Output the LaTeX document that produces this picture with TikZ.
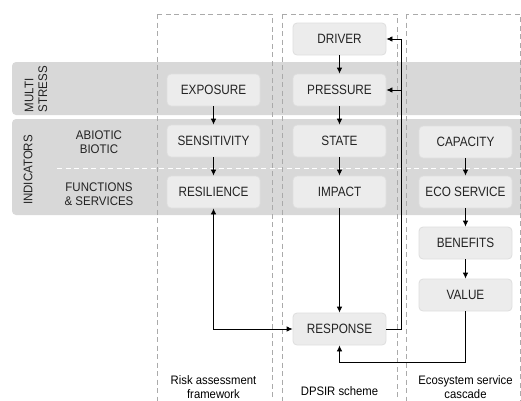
\documentclass[tikz,border=0pt]{standalone}
\usepackage{fontspec}
\setmainfont{Liberation Sans}
\newfontfamily\boxfont{Liberation Sans}[FakeStretch=0.87]
\newfontfamily\lblfont{Liberation Sans}[FakeStretch=0.92]
\usetikzlibrary{arrows.meta}
\definecolor{bandgray}{RGB}{216,216,216}
\definecolor{boxfill}{RGB}{236,236,236}
\definecolor{boxline}{RGB}{222,222,222}
\definecolor{dashgray}{RGB}{170,170,170}
\definecolor{txt}{RGB}{35,35,35}
\tikzset{
  box/.style={draw=boxline, line width=0.8pt, fill=boxfill, rounded corners=4pt,
    minimum width=93pt, minimum height=32pt, inner sep=0pt, text=txt,
    font=\boxfont\fontsize{13.5}{15}\selectfont},
  arr/.style={-{Latex[length=6pt,width=5.5pt]}, line width=0.8pt},
  arrboth/.style={{Latex[length=6pt,width=5.5pt]}-{Latex[length=6pt,width=5.5pt]}, line width=0.8pt},
  colbox/.style={draw=dashgray, dash pattern=on 5pt off 3.5pt, line width=0.8pt},
  band/.style={fill=bandgray, rounded corners=4pt},
  sidelbl/.style={text=txt, font=\lblfont\fontsize{12.5}{13.8}\selectfont, align=center},
  botlbl/.style={text=black, font=\lblfont\fontsize{12.3}{14.5}\selectfont, align=center},
}
\begin{document}
\begin{tikzpicture}[x=1pt,y=-1pt]
\useasboundingbox (0,0) rectangle (521,400);
\clip (0,0) rectangle (521,400);
% bands
\fill[band] (12,62) rectangle (530,115);
\fill[band] (12,119) rectangle (530,215);
\draw[white, line width=0.9pt, dash pattern=on 5pt off 3.5pt] (57,168) -- (521,168);
% columns
\draw[colbox] (157,14) rectangle (272,420);
\draw[colbox] (282,14) rectangle (397,420);
\draw[colbox] (406,14) rectangle (520,420);
% side labels
\node[sidelbl, rotate=90, align=left] (multi) at (36,89) {MULTI\\STRESS};
\node[sidelbl, rotate=90] (ind) at (28,170) {INDICATORS};
\node[sidelbl] (abio) at (99,142) {ABIOTIC\\BIOTIC};
\node[sidelbl] (func) at (99,194) {FUNCTIONS\\\&~SERVICES};
% nodes
\node[box] (drv) at (339.5,39) {DRIVER};
\node[box] (pre) at (339.5,90) {PRESSURE};
\node[box] (sta) at (339.5,141) {STATE};
\node[box] (imp) at (339.5,192) {IMPACT};
\node[box] (resp) at (339.5,329) {RESPONSE};
\node[box] (exp) at (213.5,90) {EXPOSURE};
\node[box] (sen) at (213.5,141) {SENSITIVITY};
\node[box] (res) at (213.5,192) {RESILIENCE};
\node[box] (cap) at (465.5,142) {CAPACITY};
\node[box] (eco) at (465.5,192) {ECO SERVICE};
\node[box] (ben) at (465.5,243) {BENEFITS};
\node[box] (val) at (465.5,295) {VALUE};
% arrows
\draw[arr] (drv) -- (pre);
\draw[arr] (pre) -- (sta);
\draw[arr] (sta) -- (imp);
\draw[arr] (imp) -- (resp);
\draw[arr] (exp) -- (sen);
\draw[arr] (sen) -- (res);
\draw[arr] (cap) -- (eco);
\draw[arr] (eco) -- (ben);
\draw[arr] (ben) -- (val);
\draw[arrboth] (res.south) |- (resp.west);
\coordinate (bend) at (401,329);
\draw[arr] (resp.east) -- (bend) |- (drv.east);
\draw[arr] (bend |- pre.east) -- (pre.east);
\coordinate (vbend) at (465.5,362);
\draw[arr] (val.south) -- (vbend) -| (resp.south);
% bottom labels
\node[botlbl] (l1) at (213.5,387) {Risk assessment\\framework};
\node[botlbl] (l2) at (339.5,391) {DPSIR scheme};
\node[botlbl] (l3) at (465.5,387) {Ecosystem service\\cascade};
\end{tikzpicture}
\end{document}
